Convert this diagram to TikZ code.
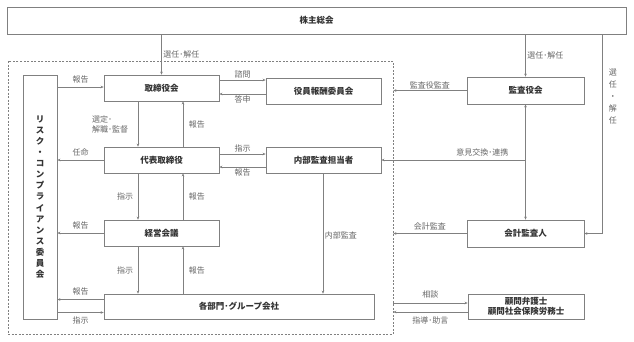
\documentclass[tikz,border=0pt]{standalone}
\usepackage{fontspec}
\setmainfont{Noto Sans CJK JP}
\usetikzlibrary{arrows.meta, positioning}
\definecolor{linegray}{HTML}{808080}
\definecolor{boxtext}{HTML}{333333}
\definecolor{lbltext}{HTML}{666666}

\begin{document}
\begin{tikzpicture}[x=1pt, y=-1pt,
  box/.style={draw=linegray, line width=0.7pt, fill=white, text=boxtext, inner sep=0pt,
    font=\fontsize{8.5}{10.5}\selectfont\bfseries},
  lbl/.style={text=lbltext, inner sep=1.5pt, font=\fontsize{8}{10}\selectfont},
  conn/.style={draw=linegray, line width=0.6pt, -{Stealth[length=3pt, width=2.6pt]}},
  frame/.style={draw=linegray, line width=0.6pt, dash pattern=on 2pt off 1.5pt, inner sep=0pt}]
  \useasboundingbox (0,0) rectangle (634,341);

  % frame of the company
  \node[frame, minimum width=385pt, minimum height=273pt] (grp) at (200.5,197.5) {};

  % boxes
  \node[box, minimum width=619pt, minimum height=27pt] (kabunushi) at (316.5,20.5) {株主総会};
  \node[box, minimum width=115pt, minimum height=26pt] (tori) at (161.5,88) {取締役会};
  \node[box, minimum width=115pt, minimum height=26pt] (hoshu) at (323.5,91) {役員報酬委員会};
  \node[box, minimum width=117pt, minimum height=27pt] (kansayaku) at (525.5,90.5) {監査役会};
  \node[box, minimum width=115pt, minimum height=26pt] (daihyo) at (161.5,160) {代表取締役};
  \node[box, minimum width=115pt, minimum height=26pt] (naibu) at (323.5,160) {内部監査担当者};
  \node[box, minimum width=115pt, minimum height=26pt] (keiei) at (161.5,233) {経営会議};
  \node[box, minimum width=117pt, minimum height=27pt] (kaikei) at (525.5,233.5) {会計監査人};
  \node[box, minimum width=270pt, minimum height=25pt] (kakubu) at (239,306.5) {各部門･グループ会社};
  \node[box, minimum width=116pt, minimum height=25pt, align=center] (komon) at (526,306.5) {顧問弁護士\\顧問社会保険労務士};
  \node[box, minimum width=34pt, minimum height=244pt, align=center,
    font=\fontsize{8.5}{11.1}\selectfont\bfseries] (risk) at (40,197)
    {リ\\ス\\ク\\・\\コ\\ン\\プ\\ラ\\イ\\ア\\ン\\ス\\委\\員\\会};

  % shareholders
  \draw[conn] (tori.north |- kabunushi.south) -- node[lbl, right] {選任･解任} (tori.north);
  \draw[conn] (kansayaku.north |- kabunushi.south) -- node[lbl, right] {選任･解任} (kansayaku.north);
  \draw[conn] (kabunushi.south -| 602,0) -- node[lbl, pos=0.31, right=5pt, align=center,
    font=\fontsize{8}{12}\selectfont] {選\\任\\・\\解\\任} (602,0 |- kaikei.east) -- (kaikei.east);

  % board and committees
  \draw[conn] (risk.east |- 0,87) -- node[lbl, above=2pt] {報告} (tori.west |- 0,87);
  \draw[conn] (tori.east |- 0,80) -- node[lbl, above] {諮問} (hoshu.west |- 0,80);
  \draw[conn] (hoshu.west |- 0,94) -- node[lbl, below] {答申} (tori.east |- 0,94);
  \draw[conn] (tori.south -| 138,0) -- node[lbl, left=8pt, align=left] {選定･\\解職･監督} (daihyo.north -| 138,0);
  \draw[conn] (daihyo.north -| 183,0) -- node[lbl, right=4pt] {報告} (tori.south -| 183,0);

  % representative director
  \draw[conn] (daihyo.west) -- node[lbl, above=2pt] {任命} (risk.east |- daihyo.west);
  \draw[conn] (daihyo.east |- 0,154) -- node[lbl, above] {指示} (naibu.west |- 0,154);
  \draw[conn] (naibu.west |- 0,167) -- node[lbl, below] {報告} (daihyo.east |- 0,167);
  \draw[conn] (daihyo.south -| 138,0) -- node[lbl, left=3pt] {指示} (keiei.north -| 138,0);
  \draw[conn] (keiei.north -| 183,0) -- node[lbl, right=4pt] {報告} (daihyo.south -| 183,0);

  % management meeting
  \draw[conn] (keiei.west) -- node[lbl, above=2pt] {報告} (risk.east |- keiei.west);
  \draw[conn] (keiei.south -| 138,0) -- node[lbl, left=3pt] {指示} (kakubu.north -| 138,0);
  \draw[conn] (kakubu.north -| 183,0) -- node[lbl, right=4pt] {報告} (keiei.south -| 183,0);
  \draw[conn] (kakubu.west |- 0,299.5) -- node[lbl, above=2pt] {報告} (risk.east |- 0,299.5);
  \draw[conn] (risk.east |- 0,312.5) -- node[lbl, below=2pt] {指示} (kakubu.west |- 0,312.5);
  \draw[conn] (naibu.south -| 323,0) -- node[lbl, pos=0.52, right] {内部監査} (kakubu.north -| 323,0);

  % auditors
  \draw[conn] (kansayaku.west) -- node[lbl, above] {監査役監査} (grp.east |- kansayaku.west);
  \draw[conn, {Stealth[length=3pt, width=2.6pt]}-{Stealth[length=3pt, width=2.6pt]}] (kansayaku.south) -- (kaikei.north);
  \draw[conn] (kansayaku.south |- naibu.east) -- node[lbl, pos=0.3, above=2pt] {意見交換･連携} (naibu.east);
  \draw[conn] (kaikei.west) -- node[lbl, above=2pt] {会計監査} (grp.east |- kaikei.west);

  % advisers
  \draw[conn] (grp.east |- 0,303) -- node[lbl, above=3pt] {相談} (komon.west |- 0,303);
  \draw[conn] (komon.west |- 0,312) -- node[lbl, below=3pt] {指導･助言} (grp.east |- 0,312);
\end{tikzpicture}
\end{document}
